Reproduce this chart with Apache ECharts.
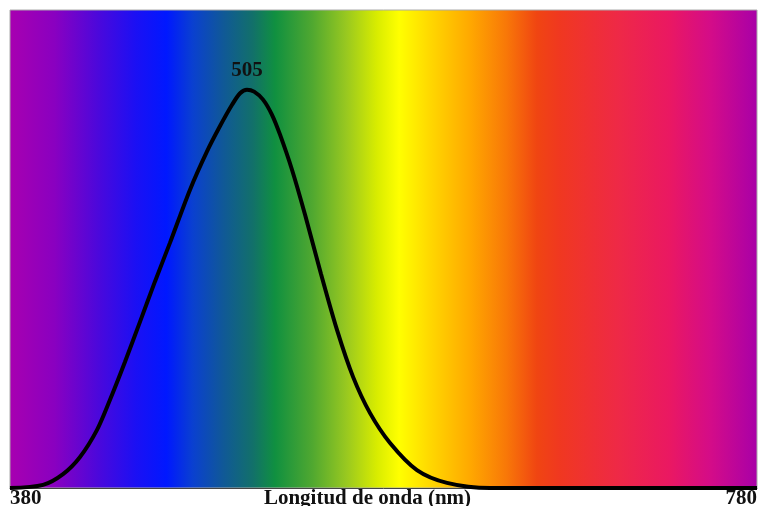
<!DOCTYPE html>
<html>
<head>
<meta charset="utf-8">
<script src="https://cdn.jsdelivr.net/npm/echarts@6/dist/echarts.min.js"></script>
<style>html,body{margin:0;padding:0;background:#fff}#c{width:759px;height:506px}</style>
</head>
<body>
<div id="c"></div>
<script>
// Wavelength (nm) and relative scotopic sensitivity
const wavelengths = [380, 397.7, 408.4, 417.5, 426.6, 433.5, 441.6, 449.6, 457.6, 465.7, 476.4, 485.5, 492.4, 498.9, 503.2, 506.9, 510.7, 515.5, 520.3, 524.6, 531.0, 538.0, 546.5, 555.1, 563.7, 572.8, 583.5, 597.9, 614.0, 637.0, 780];
const sensitivity = [0.0, 0.008, 0.035, 0.078, 0.146, 0.221, 0.317, 0.417, 0.518, 0.616, 0.749, 0.845, 0.908, 0.962, 0.991, 1.0, 0.995, 0.975, 0.937, 0.887, 0.799, 0.686, 0.538, 0.397, 0.279, 0.188, 0.113, 0.045, 0.013, 0.0, 0.0];
const xTicks = [380, 780];
const peakLabel = '505';
const axisName = 'Longitud de onda (nm)';

const spectrumStops = [
  [0, '#a800b0'], [0.06, '#8a00c0'], [0.12, '#4a08dc'], [0.17, '#1a10f4'],
  [0.21, '#0018ff'], [0.245, '#0a40d0'], [0.285, '#105898'], [0.325, '#12706a'],
  [0.355, '#109040'], [0.405, '#50a830'], [0.45, '#98c820'], [0.491, '#d8ec00'],
  [0.521, '#ffff00'], [0.562, '#ffd800'], [0.616, '#ffa800'], [0.664, '#f87808'],
  [0.705, '#f04512'], [0.735, '#f03820'], [0.817, '#ee2848'], [0.882, '#ea1862'],
  [0.937, '#d40c88'], [1, '#a800a8']
];

const peakIdx = sensitivity.indexOf(Math.max(...sensitivity));
const data = wavelengths.map((w, i) => [w, sensitivity[i]]);

const textFont = { fontFamily: 'Liberation Serif', fontWeight: 'bold', fontSize: 21, color: '#111' };

const chart = echarts.init(document.getElementById('c'));
chart.setOption({
  animation: false,
  grid: {
    left: 10, right: 2, top: 10, bottom: 18,
    outerBoundsMode: 'none', containLabel: false,
    show: true,
    borderColor: '#aaa', borderWidth: 1,
    backgroundColor: new echarts.graphic.LinearGradient(0, 0, 1, 0,
      spectrumStops.map(s => ({ offset: s[0], color: s[1] })))
  },
  xAxis: {
    type: 'value', min: xTicks[0], max: xTicks[1], interval: xTicks[1] - xTicks[0],
    axisLine: { show: true, lineStyle: { color: '#444', width: 1 } },
    axisTick: { show: false },
    splitLine: { show: false },
    axisLabel: Object.assign({ show: true, margin: 0, alignMinLabel: 'left', alignMaxLabel: 'right' }, textFont),
    name: axisName, nameLocation: 'middle', nameGap: 0, nameMoveOverlap: false,
    nameTextStyle: Object.assign({ padding: [0, 32, 0, 0] }, textFont)
  },
  yAxis: {
    type: 'value', min: 0, max: 1.2,
    show: false, splitLine: { show: false }
  },
  series: [{
    type: 'line', data: data, smooth: 0.3, symbol: 'none', showSymbol: false,
    lineStyle: { color: '#000', width: 4 },
    z: 5,
    markPoint: {
      symbol: 'circle', symbolSize: 1,
      itemStyle: { color: 'rgba(0,0,0,0)' },
      label: Object.assign({ show: true, position: 'top', distance: 8, formatter: peakLabel }, textFont),
      data: [{ coord: [wavelengths[peakIdx], sensitivity[peakIdx]] }]
    }
  }]
});
</script>
</body>
</html>
